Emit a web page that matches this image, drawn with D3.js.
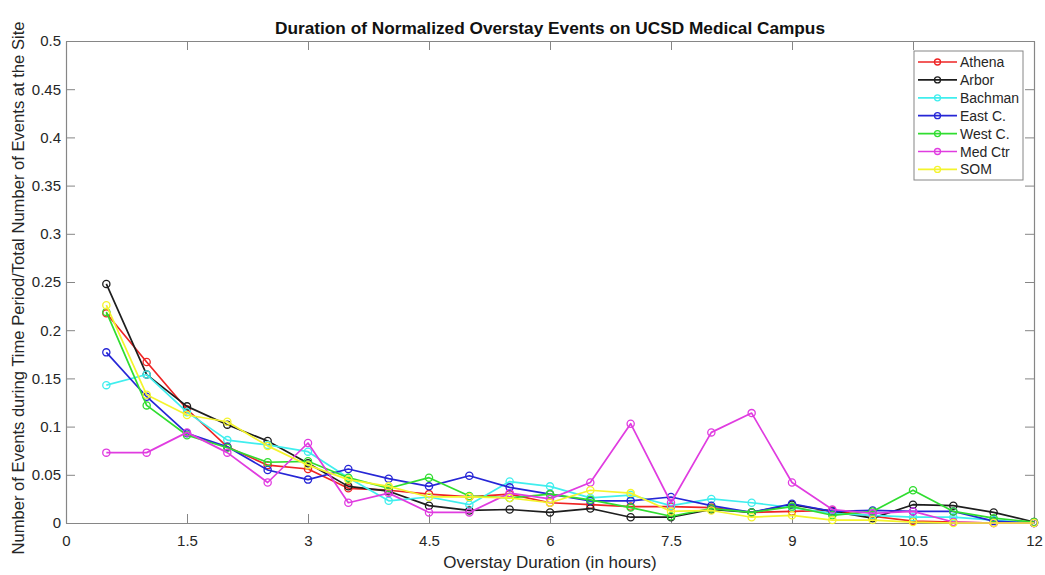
<!DOCTYPE html>
<html>
<head>
<meta charset="utf-8">
<script src="https://cdn.jsdelivr.net/npm/d3@7"></script>
<style>
  html, body { margin: 0; padding: 0; background: #fff; }
  svg { display: block; font-family: "Liberation Sans", Arial, Helvetica, sans-serif; }
</style>
</head>
<body>
<svg id="chart" width="1045" height="575"></svg>
<script>
// Overstay duration bins (hours)
const durations = [0.5, 1, 1.5, 2, 2.5, 3, 3.5, 4, 4.5, 5, 5.5, 6,
                   6.5, 7, 7.5, 8, 8.5, 9, 9.5, 10, 10.5, 11, 11.5, 12];

// Normalized share of events per site
const athena  = [0.2175, 0.167, 0.118, 0.079, 0.060, 0.056, 0.036, 0.034, 0.030, 0.027, 0.030, 0.021,
                 0.019, 0.017, 0.017, 0.016, 0.011, 0.012, 0.013, 0.007, 0.002, 0.001, 0.000, 0.000];
const arbor   = [0.248, 0.154, 0.121, 0.102, 0.085, 0.062, 0.038, 0.033, 0.018, 0.013, 0.014, 0.011,
                 0.015, 0.006, 0.006, 0.014, 0.011, 0.019, 0.012, 0.005, 0.019, 0.018, 0.011, 0.001];
const bachman = [0.143, 0.154, 0.115, 0.086, 0.081, 0.074, 0.047, 0.023, 0.027, 0.019, 0.043, 0.038,
                 0.026, 0.029, 0.018, 0.025, 0.021, 0.016, 0.010, 0.008, 0.006, 0.006, 0.003, 0.000];
const eastC   = [0.177, 0.131, 0.093, 0.079, 0.055, 0.045, 0.056, 0.046, 0.038, 0.049, 0.037, 0.030,
                 0.023, 0.023, 0.027, 0.018, 0.011, 0.020, 0.012, 0.013, 0.012, 0.012, 0.002, 0.000];
const westC   = [0.219, 0.122, 0.091, 0.078, 0.063, 0.064, 0.047, 0.036, 0.047, 0.028, 0.026, 0.030,
                 0.024, 0.016, 0.007, 0.015, 0.011, 0.017, 0.008, 0.012, 0.034, 0.012, 0.005, 0.001];
const medCtr  = [0.073, 0.073, 0.094, 0.073, 0.042, 0.083, 0.021, 0.031, 0.011, 0.011, 0.031, 0.025,
                 0.042, 0.103, 0.021, 0.094, 0.114, 0.042, 0.014, 0.010, 0.012, 0.001, 0.000, 0.000];
const som     = [0.226, 0.133, 0.112, 0.105, 0.080, 0.060, 0.045, 0.038, 0.027, 0.027, 0.026, 0.021,
                 0.034, 0.031, 0.012, 0.013, 0.006, 0.008, 0.003, 0.003, 0.001, 0.000, 0.000, 0.000];

const siteNames  = ["Athena", "Arbor", "Bachman", "East C.", "West C.", "Med Ctr", "SOM"];
const siteValues = [athena, arbor, bachman, eastC, westC, medCtr, som];
const siteColors = ["#ee2424", "#1e1e1e", "#40eeee", "#2626d6", "#30dd30", "#e03ce0", "#f4f42c"];

const xTicks = [0, 1.5, 3, 4.5, 6, 7.5, 9, 10.5, 12];
const yTicks = [0, 0.05, 0.1, 0.15, 0.2, 0.25, 0.3, 0.35, 0.4, 0.45, 0.5];

const titleText  = "Duration of Normalized Overstay Events on UCSD Medical Campus";
const xLabelText = "Overstay Duration (in hours)";
const yLabelText = "Number of Events during Time Period/Total Number of Events at the Site";

// Layout
const plot = { left: 66, right: 1034, top: 41, bottom: 523 };
const axisColor = "#868686";
const textColor = "#262626";

const svg = d3.select("#chart");

const x = d3.scaleLinear().domain([0, 12]).range([plot.left, plot.right]);
const y = d3.scaleLinear().domain([0, 0.5]).range([plot.bottom, plot.top]);

const tickFmt = d => d3.format("~g")(d);

// Axes with inward ticks on all four sides
const tickLen = 9;
const gBottom = svg.append("g").attr("transform", `translate(0,${plot.bottom})`)
  .call(d3.axisBottom(x).tickValues(xTicks).tickFormat(tickFmt).tickSizeInner(-tickLen).tickSizeOuter(0).tickPadding(12));
const gTop = svg.append("g").attr("transform", `translate(0,${plot.top})`)
  .call(d3.axisTop(x).tickValues(xTicks).tickFormat("").tickSizeInner(-tickLen).tickSizeOuter(0));
const gLeft = svg.append("g").attr("transform", `translate(${plot.left},0)`)
  .call(d3.axisLeft(y).tickValues(yTicks).tickFormat(tickFmt).tickSizeInner(-tickLen).tickSizeOuter(0).tickPadding(5));
const gRight = svg.append("g").attr("transform", `translate(${plot.right},0)`)
  .call(d3.axisRight(y).tickValues(yTicks).tickFormat("").tickSizeInner(-tickLen).tickSizeOuter(0));

[gBottom, gTop, gLeft, gRight].forEach(g => {
  g.select(".domain").attr("stroke", axisColor).attr("stroke-width", 1.2);
  g.selectAll(".tick line").attr("stroke", axisColor).attr("stroke-width", 1);
  g.selectAll(".tick text").attr("fill", textColor).style("font-size", "15px")
    .style("font-family", "'Liberation Sans', Arial, sans-serif");
});

// Series lines and open circle markers
const line = d3.line().x((d, i) => x(durations[i])).y(d => y(d));

const series = svg.append("g").attr("class", "series");
siteValues.forEach((vals, k) => {
  const g = series.append("g");
  g.append("path")
    .datum(vals)
    .attr("d", line)
    .attr("fill", "none")
    .attr("stroke", siteColors[k])
    .attr("stroke-width", 1.7)
    .attr("stroke-linejoin", "round");
  g.selectAll("circle")
    .data(vals)
    .join("circle")
    .attr("cx", (d, i) => x(durations[i]))
    .attr("cy", d => y(d))
    .attr("r", 3.6)
    .attr("fill", "none")
    .attr("stroke", siteColors[k])
    .attr("stroke-width", 1.3);
});

// Title and axis labels
svg.append("text")
  .attr("x", 550).attr("y", 34)
  .attr("text-anchor", "middle")
  .attr("fill", "#111")
  .attr("textLength", 550).attr("lengthAdjust", "spacingAndGlyphs")
  .style("font-size", "17px").style("font-weight", "bold")
  .text(titleText);

svg.append("text")
  .attr("x", 550).attr("y", 568)
  .attr("text-anchor", "middle")
  .attr("fill", textColor)
  .style("font-size", "17px")
  .text(xLabelText);

svg.append("text")
  .attr("transform", `translate(23.5,${(plot.top + plot.bottom) / 2 + 6}) rotate(-90)`)
  .attr("text-anchor", "middle")
  .attr("fill", textColor)
  .attr("textLength", 533).attr("lengthAdjust", "spacingAndGlyphs")
  .style("font-size", "16.5px")
  .text(yLabelText);

// Legend
const legend = { left: 914, top: 51, width: 109, height: 129, rowStart: 62, rowStep: 17.9 };
svg.append("rect")
  .attr("x", legend.left).attr("y", legend.top)
  .attr("width", legend.width).attr("height", legend.height)
  .attr("fill", "#fff").attr("stroke", axisColor).attr("stroke-width", 1);

siteNames.forEach((name, k) => {
  const cy = legend.rowStart + k * legend.rowStep;
  const g = svg.append("g");
  g.append("line")
    .attr("x1", 918).attr("x2", 957).attr("y1", cy).attr("y2", cy)
    .attr("stroke", siteColors[k]).attr("stroke-width", 1.7);
  g.append("circle")
    .attr("cx", 937.5).attr("cy", cy).attr("r", 3)
    .attr("fill", "none").attr("stroke", siteColors[k]).attr("stroke-width", 1.3);
  g.append("text")
    .attr("x", 960).attr("y", cy + 5)
    .attr("fill", textColor)
    .style("font-size", "14px")
    .text(name);
});
</script>
</body>
</html>
